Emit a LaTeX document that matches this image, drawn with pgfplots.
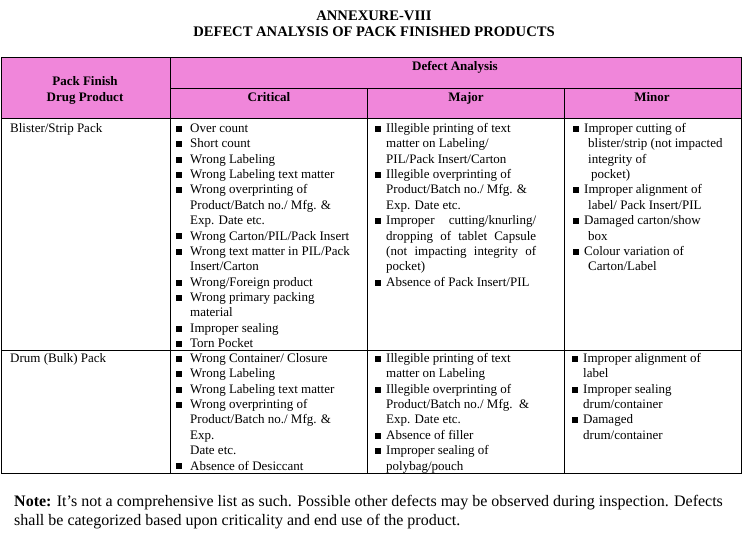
\documentclass[border=0pt]{standalone}
\usepackage{pgfplots}
\pgfplotsset{compat=1.18}
\usepackage{fontspec}
\setmainfont{Liberation Serif}
\definecolor{hdr}{RGB}{240,134,218}
\newcommand\bul{\rule[0.6pt]{6pt}{6pt}}
\newcommand\T[3]{\node[anchor=base west] at (axis cs:#1,#2) {#3};}
\newcommand\C[3]{\node[anchor=base] at (axis cs:#1,#2) {#3};}
\newcommand\BT[4]{\node[anchor=base west] at (axis cs:#1,#3) {\bul};\node[anchor=base west] at (axis cs:#2,#3) {#4};}
\tikzset{every node/.append style={inner sep=0pt, font=\fontsize{13}{15}\selectfont}}
\begin{document}
\begin{tikzpicture}
\begin{axis}[
 scale only axis, width=743pt, height=546pt,
 xmin=0, xmax=743, ymin=0, ymax=546, y dir=reverse,
 hide axis, clip=false,
]
\addplot[draw=none] coordinates {(0,0) (743,546)};
% header fill
\addplot[fill=hdr, draw=none] coordinates {(1,57) (741,57) (741,118) (1,118) (1,57)};
% borders
\addplot[black, line width=0.8pt] coordinates {(1,57) (741,57) (741,473) (1,473) (1,57) (741,57)};
\addplot[black, line width=0.8pt] coordinates {(170,88) (741,88)};
\addplot[black, line width=0.8pt] coordinates {(1,118) (741,118)};
\addplot[black, line width=0.8pt] coordinates {(1,350) (741,350)};
\addplot[black, line width=0.8pt] coordinates {(170,57) (170,473)};
\addplot[black, line width=0.8pt] coordinates {(367,88) (367,473)};
\addplot[black, line width=0.8pt] coordinates {(564,88) (564,473)};

% titles
\node[anchor=base, font=\fontsize{14.6}{16}\selectfont\bfseries] at (axis cs:374,20) {ANNEXURE-VIII};
\node[anchor=base, font=\fontsize{14.6}{16}\selectfont\bfseries] at (axis cs:374,36) {DEFECT ANALYSIS OF PACK FINISHED PRODUCTS};
% header
\C{85}{85.5}{\bfseries Pack Finish}
\C{85}{101.5}{\bfseries Drug Product}
\C{455}{70.5}{\bfseries Defect Analysis}
\C{269}{101.5}{\bfseries Critical}
\C{466}{101.5}{\bfseries Major}
\C{652}{101.5}{\bfseries Minor}
% row labels
\T{10}{132.5}{Blister/Strip Pack}
\T{10}{362.5}{Drum (Bulk) Pack}

% Critical - blister
\BT{176}{190}{132.5}{Over count}
\BT{176}{190}{147.9}{Short count}
\BT{176}{190}{163.2}{Wrong Labeling}
\BT{176}{190}{178.6}{Wrong Labeling text matter}
\BT{176}{190}{193.9}{Wrong overprinting of}
\T{190}{209.3}{Product/Batch no./ Mfg. \&}
\T{190}{224.7}{Exp. Date etc.}
\BT{176}{190}{240.0}{Wrong Carton/PIL/Pack Insert}
\BT{176}{190}{255.4}{Wrong text matter in PIL/Pack}
\T{190}{270.7}{Insert/Carton}
\BT{176}{190}{286.1}{Wrong/Foreign product}
\BT{176}{190}{301.5}{Wrong primary packing}
\T{190}{316.8}{material}
\BT{176}{190}{332.2}{Improper sealing}
\BT{176}{190}{347.5}{Torn Pocket}

% Major - blister
\BT{375}{386}{132.5}{Illegible printing of text}
\T{386}{147.9}{matter on Labeling/}
\T{386}{163.2}{PIL/Pack Insert/Carton}
\BT{375}{386}{178.6}{Illegible overprinting of}
\T{386}{193.9}{Product/Batch no./ Mfg. \&}
\T{386}{209.3}{Exp. Date etc.}
\BT{375}{386}{224.7}{\makebox[150pt][s]{Improper cutting/knurling/}}
\T{386}{240.0}{\makebox[150pt][s]{dropping of tablet Capsule}}
\T{386}{255.4}{\makebox[150pt][s]{(not impacting integrity of}}
\T{386}{270.7}{pocket)}
\BT{375}{386}{286.1}{Absence of Pack Insert/PIL}

% Minor - blister
\BT{573}{584}{132.5}{Improper cutting of}
\T{588}{147.9}{blister/strip (not impacted}
\T{588}{163.2}{integrity of}
\T{591}{178.6}{pocket)}
\BT{573}{584}{193.9}{Improper alignment of}
\T{588}{209.3}{label/ Pack Insert/PIL}
\BT{573}{584}{224.7}{Damaged carton/show}
\T{588}{240.0}{box}
\BT{573}{584}{255.4}{Colour variation of}
\T{588}{270.7}{Carton/Label}

% Critical - drum
\BT{176}{190}{362.5}{Wrong Container/ Closure}
\BT{176}{190}{377.9}{Wrong Labeling}
\BT{176}{190}{393.2}{Wrong Labeling text matter}
\BT{176}{190}{408.6}{Wrong overprinting of}
\T{190}{423.9}{Product/Batch no./ Mfg. \&}
\T{190}{439.3}{Exp.}
\T{190}{454.7}{Date etc.}
\BT{176}{190}{470.0}{Absence of Desiccant}

% Major - drum
\BT{375}{386}{362.5}{Illegible printing of text}
\T{386}{377.9}{matter on Labeling}
\BT{375}{386}{393.2}{Illegible overprinting of}
\T{386}{408.6}{Product/Batch no./ Mfg.\ \ \&}
\T{386}{423.9}{Exp. Date etc.}
\BT{375}{386}{439.3}{Absence of filler}
\BT{375}{386}{454.7}{Improper sealing of}
\T{386}{470.0}{polybag/pouch}

% Minor - drum
\BT{572}{583}{362.5}{Improper alignment of}
\T{583}{377.9}{label}
\BT{572}{583}{393.2}{Improper sealing}
\T{583}{408.6}{drum/container}
\BT{572}{583}{423.9}{Damaged}
\T{583}{439.3}{drum/container}

% note
\node[anchor=base west, font=\fontsize{16}{19}\selectfont] at (axis cs:14,506) {\textbf{Note:} It's not a comprehensive list as such. Possible other defects may be observed during inspection. Defects};
\node[anchor=base west, font=\fontsize{16}{19}\selectfont] at (axis cs:14,525) {shall be categorized based upon criticality and end use of the product.};
\end{axis}
\end{tikzpicture}
\end{document}
